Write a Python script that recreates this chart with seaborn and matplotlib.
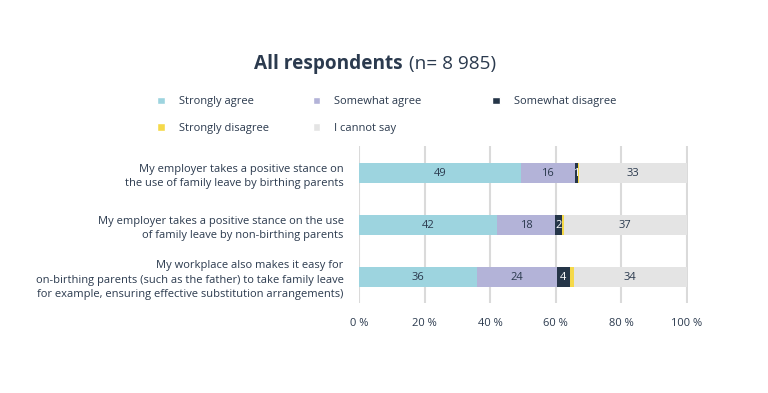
import numpy as np
import pandas as pd
import matplotlib
matplotlib.use("Agg")
import matplotlib.pyplot as plt
import seaborn as sns
from matplotlib.patches import Patch

# data (percent)
questions = [
    "My employer takes a positive stance on\nthe use of family leave by birthing parents",
    "My employer takes a positive stance on the use\nof family leave by non-birthing parents",
    "My workplace also makes it easy for\non-birthing parents (such as the father) to take family leave\nfor example, ensuring effective substitution arrangements)",
]
categories = ["Strongly agree", "Somewhat agree", "Somewhat disagree",
              "Strongly disagree", "I cannot say"]
strongly_agree = [49.4, 42.1, 36.0]
somewhat_agree = [16.5, 17.8, 24.3]
somewhat_disagree = [0.9, 2.1, 4.2]
strongly_disagree = [0.4, 0.6, 1.1]
cannot_say = [32.8, 37.4, 34.4]

colors = ["#9dd4df", "#b3b3d8", "#253548", "#f5d94a", "#e4e4e4"]
text_col = "#2b3a4e"

sns.set_style("white")
plt.rcParams['font.family'] = ['Open Sans', 'DejaVu Sans']

df = pd.DataFrame({"question": questions,
                   "Strongly agree": strongly_agree,
                   "Somewhat agree": somewhat_agree,
                   "Somewhat disagree": somewhat_disagree,
                   "Strongly disagree": strongly_disagree,
                   "I cannot say": cannot_say})
cum = df[categories].cumsum(axis=1)

fig = plt.figure(figsize=(7.68, 3.93), dpi=100)
ax = fig.add_axes([0.4674, 0.229, 0.4284, 0.3995])

# gridlines behind bars
for x in [0, 20, 40, 60, 80, 100]:
    ax.axvline(x, color="#dadada", lw=1.5, zorder=0)

# stacked bars: draw cumulative totals from the last category backwards
for i in range(len(categories) - 1, -1, -1):
    cat = categories[i]
    sns.barplot(x=cum[cat], y=df["question"], color=colors[i], orient="h",
                width=0.38, saturation=1, linewidth=0, ax=ax, zorder=2)

# value labels
for r in range(len(questions)):
    for i, cat in enumerate(categories):
        if cat == "Strongly disagree":
            continue
        v = df.loc[r, cat]
        mid = cum.loc[r, cat] - v / 2
        c = "white" if cat == "Somewhat disagree" else text_col
        ax.text(mid, r, f"{v:.0f}", ha="center", va="center", color=c,
                fontsize=8, zorder=5)

ax.set_xlim(0, 100.4)
ax.set_ylim(2.5, -0.52)
ax.set_xticks([0, 20, 40, 60, 80, 100])
ax.set_xticklabels([f"{t} %" for t in [0, 20, 40, 60, 80, 100]])
ax.set_xlabel("")
ax.set_ylabel("")
for s in ax.spines.values():
    s.set_visible(False)
ax.tick_params(axis="x", length=0, pad=11, labelsize=8, labelcolor=text_col)
ax.tick_params(axis="y", length=0, pad=11, labelsize=8, labelcolor=text_col)
for lab in ax.get_yticklabels():
    lab.set_linespacing(1.45)

# title
fig.text(0.5245, 0.837, "All respondents", ha="right", va="center",
         fontsize=13.7, fontweight="bold", color=text_col)
fig.text(0.532, 0.837, "(n= 8 985)", ha="left", va="center",
         fontsize=13.7, color=text_col)

# legend, placed column by column
cols = [([0, 3], 0.205), ([1, 4], 0.407), ([2], 0.641)]
for idx, xpos in cols:
    handles = [Patch(facecolor=colors[i], label=categories[i]) for i in idx]
    leg = fig.legend(handles=handles, ncol=1, loc="upper left",
                     bbox_to_anchor=(xpos, 0.755), frameon=False, fontsize=8,
                     labelcolor=text_col, handlelength=0.7, handleheight=0.7,
                     handletextpad=1.25, labelspacing=1.4,
                     borderpad=0, borderaxespad=0)

fig.savefig("out.png", dpi=100, facecolor="white")
